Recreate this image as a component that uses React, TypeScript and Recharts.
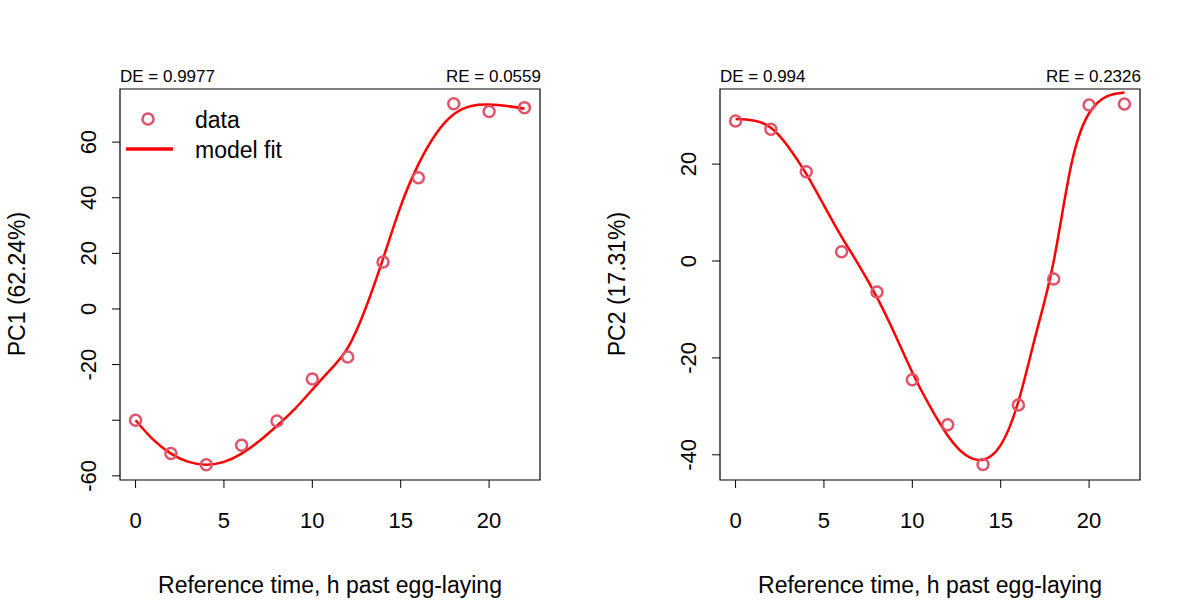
import React from 'react';
import { ComposedChart, Line, Scatter, XAxis, YAxis, ReferenceArea } from 'recharts';

const times = [0, 2, 4, 6, 8, 10, 12, 14, 16, 18, 20, 22];
const pc1Data = [-40, -52, -56, -49, -40.3, -25.2, -17.3, 16.9, 47.2, 73.8, 71, 72.4];
const pc2Data = [28.9, 27.2, 18.4, 1.9, -6.4, -24.5, -33.8, -42, -29.7, -3.7, 32.2, 32.4];

const fitTimes = [0, 1, 2, 3, 4, 5, 6, 7, 8, 9, 10, 11, 12, 13, 14, 15, 16, 17, 18, 19, 20, 21, 22];
const pc1Fit = [-40, -47, -52, -55, -56, -55, -52, -47.5, -42, -36, -29, -22, -14, 0, 18, 37, 52, 63, 70, 73, 73.5, 73, 72];
const pc2Fit = [29.3, 29, 27.5, 23.5, 18, 11.5, 5, -1, -7.5, -15, -23, -30, -36, -40, -41, -38, -29, -15, 0, 20, 30.5, 34, 34.8];

const xTicks = [0, 5, 10, 15, 20];
const pc1Ticks = [-60, -40, -20, 0, 20, 40, 60];
const pc2Ticks = [-40, -20, 0, 20];

const FONT = 'Liberation Sans, Arial, sans-serif';
const DOT = '#DF536B';

const YTick = ({ x, y, payload, hide }: any) => (
  <g>
    {hide?.includes(payload.value) ? null : (
      <text x={x - 14} y={y} transform={`rotate(-90 ${x - 14} ${y})`} textAnchor="middle" fontSize={22} fontFamily={FONT} fill="#000">
        {payload.value}
      </text>
    )}
  </g>
);

const Ring = (props: any) => <circle cx={props.cx} cy={props.cy} r={5.5} fill="none" stroke={DOT} strokeWidth={2.5} />;

function Panel({ values, fit, ticks, domain, hide, yLabel, de, re, legend }: any) {
  const pts = times.map((t, i) => ({ x: t, y: values[i] }));
  const fitPts = fitTimes.map((t, i) => ({ x: t, y: fit[i] }));
  return (
    <div style={{ position: 'relative', width: 600, height: 600 }}>
      <ComposedChart width={600} height={600} margin={{ top: 89, right: 60, left: 0, bottom: 0 }}>
        <XAxis type="number" dataKey="x" domain={[-0.88, 22.88]} ticks={xTicks} axisLine={false}
          tickSize={8} tickMargin={24} height={120} tick={{ fontSize: 22, fontFamily: FONT, fill: '#000' }} stroke="#000" />
        <YAxis type="number" dataKey="y" domain={domain} ticks={ticks} axisLine={false} tickSize={8}
          width={120} stroke="#000" tick={<YTick hide={hide} />} />
        <ReferenceArea x1={-0.88} x2={22.88} y1={domain[0]} y2={domain[1]} fill="none" stroke="#000" strokeWidth={1.2} fillOpacity={0} />
        <Line data={fitPts} dataKey="y" type="natural" stroke="#FF0000" strokeWidth={2.5} dot={false} isAnimationActive={false} />
        <Scatter data={pts} dataKey="y" shape={<Ring />} isAnimationActive={false} />
      </ComposedChart>
      <div style={{ position: 'absolute', left: 120, top: 67, fontSize: 17, fontFamily: FONT }}>{de}</div>
      <div style={{ position: 'absolute', right: 59, top: 67, fontSize: 17, fontFamily: FONT }}>{re}</div>
      <div style={{ position: 'absolute', left: 0, top: 0, width: 600, height: 600, pointerEvents: 'none' }}>
        <svg width={600} height={600}>
          <text x={25} y={284} transform="rotate(-90 25 284)" textAnchor="middle" fontSize={23} fontFamily={FONT}>{yLabel}</text>
          <text x={330} y={593} textAnchor="middle" fontSize={23} fontFamily={FONT}>Reference time, h past egg-laying</text>
          {legend && (
            <g fontFamily={FONT} fontSize={23}>
              <circle cx={148} cy={119} r={5.5} fill="none" stroke={DOT} strokeWidth={2.5} />
              <line x1={126} x2={173} y1={149} y2={149} stroke="#FF0000" strokeWidth={3.5} />
              <text x={195} y={128}>data</text>
              <text x={195} y={158}>model fit</text>
            </g>
          )}
        </svg>
      </div>
    </div>
  );
}

export default function App() {
  return (
    <div style={{ position: 'absolute', left: 0, top: 0, width: 1200, height: 600, background: '#fff', display: 'flex' }}>
      <Panel values={pc1Data} fit={pc1Fit} ticks={pc1Ticks} domain={[-61.5, 79.1]} hide={[-40]}
        yLabel="PC1 (62.24%)" de="DE = 0.9977" re="RE = 0.0559" legend />
      <Panel values={pc2Data} fit={pc2Fit} ticks={pc2Ticks} domain={[-45.2, 35.5]}
        yLabel="PC2 (17.31%)" de="DE = 0.994" re="RE = 0.2326" />
    </div>
  );
}
